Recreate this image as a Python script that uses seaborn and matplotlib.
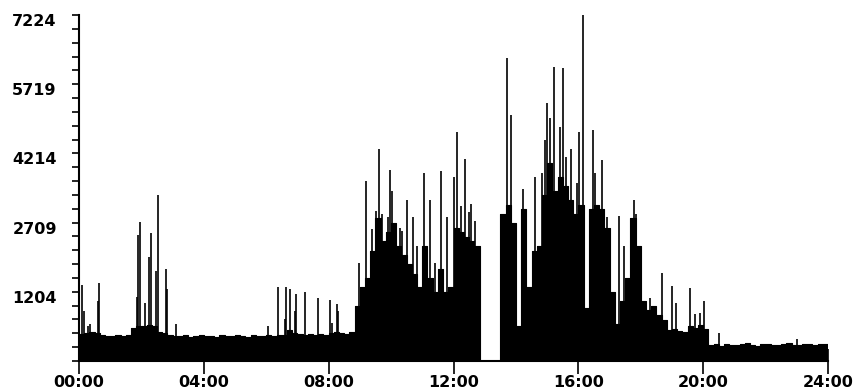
import numpy as np
import pandas as pd
import matplotlib
matplotlib.use("Agg")
import matplotlib.pyplot as plt
import seaborn as sns
from matplotlib.transforms import ScaledTranslation

BOTTOM = -301
TOP = 7224

# dense body of the trace, one value per 10 minutes from 00:00 (None = no data)
bulk = [
    280, 300, 330, 300, 260, 250, 240, 260, 250, 270,
    420, 470, 460, 480, 450, 330, 300, 260,
    250, 240, 260, 230, 250, 270, 240, 250, 230, 260, 250,
    240, 270, 250, 230, 260, 250, 240, 260, 250, 270, 260,
    380, 300, 280, 270, 280, 260, 290, 270, 300, 320, 300, 290, 330,
    900, 1300, 1500, 2100, 2800, 2300, 2500, 2700, 2200, 2000, 1800, 1600,
    1300, 2200, 1500, 1200, 1700, 1200, 1300, 2600, 2500, 2400, 2300, 2200,
    None, None, None, None,
    2900, 3100, 2700, 450, 3000, 1300, 2100, 2200, 3300, 4000,
    3400, 3700, 3500, 3200, 2900, 3100, 850, 3000, 3100, 3000,
    2600, 1200, 500, 1000, 1500, 2800, 2200, 1000, 800, 900,
    700, 600, 380, 400, 350, 330, 450, 420, 480, 400,
    40, 60, 30, 70, 50, 40, 60, 80, 50, 30, 60, 70,
    40, 50, 60, 80, 50, 40, 70, 60, 50, 70, 60,
]

# single tall samples sticking out of the body
spike_hours = [
    0.11, 0.15, 0.29, 0.35, 0.60, 0.64, 1.85, 1.88, 1.96, 2.12, 2.24, 2.31,
    2.47, 2.52, 2.78, 2.82, 3.10, 6.05, 6.37, 6.60, 6.63, 6.76, 6.92, 6.95,
    7.24, 7.65, 8.04, 8.10, 8.26, 8.30, 8.97, 9.19, 9.38, 9.53, 9.62, 9.71,
    9.90, 9.97, 10.03, 10.29, 10.35, 10.50, 10.71, 10.84, 11.04, 11.25, 11.42,
    11.60, 11.79, 12.02, 12.11, 12.24, 12.37, 12.50, 12.56, 12.69,
    13.71, 13.85, 14.24, 14.62, 14.83, 14.94, 15.01, 15.10, 15.22, 15.42,
    15.50, 15.62, 15.75, 15.95, 16.03, 16.16, 16.48, 16.54, 16.75, 16.91,
    17.29, 17.47, 17.72, 17.79, 17.85, 18.30, 18.67, 18.99, 19.13, 19.58,
    19.74, 19.90, 20.03, 20.52, 23.00,
]
spike_values = [
    1360, 790, 450, 500, 1010, 1400, 1100, 2430, 2720, 950, 1970, 2480,
    1660, 3300, 1710, 1270, 510, 470, 1300, 620, 1300, 1270, 790, 1160,
    1210, 1070, 1030, 530, 940, 790, 1820, 3620, 2580, 2970, 4300, 2900,
    2820, 3860, 3400, 2600, 2530, 3190, 2820, 2210, 3780, 3190, 1820,
    3840, 2840, 3700, 4690, 3060, 4100, 2950, 3120, 2750,
    6280, 5040, 3450, 3710, 3780, 4500, 5300, 4980, 6090, 4780,
    6070, 4130, 4300, 3560, 4670, 7224, 4720, 3780, 4080, 2820,
    2860, 2200, 2600, 3190, 2900, 1070, 1620, 1335, 965, 1290,
    725, 745, 1010, 310, 180,
]

y_ticks = [1204, 2709, 4214, 5719, 7224]
x_ticks = [0, 4, 8, 12, 16, 20, 24]
x_labels = ["00:00", "04:00", "08:00", "12:00", "16:00", "20:00", "24:00"]


def plot():
    sns.set_theme(style="ticks")
    plt.rcParams["font.family"] = ["DejaVu Sans"]
    fig = plt.figure(figsize=(8.56, 3.9), dpi=100)
    ax = fig.add_axes([79 / 856, 29 / 390, 749 / 856, 346 / 390])

    hours = np.arange(len(bulk)) / 6
    df = pd.DataFrame({"hour": np.append(hours, 24.0),
                       "count": pd.array(bulk + [bulk[-1]], dtype="Float64")})
    df["level"] = df["count"].fillna(BOTTOM).astype(float)

    ax.fill_between(df["hour"], BOTTOM, df["level"], step="post",
                    color="black", lw=0)
    sns.lineplot(data=df, x="hour", y="level", drawstyle="steps-post",
                 color="black", lw=0.8, ax=ax)
    ax.vlines(spike_hours, BOTTOM, spike_values, color="black", lw=1.2)

    ax.set_xlim(0, 24)
    ax.set_ylim(BOTTOM, TOP)
    ax.set_xlabel("")
    ax.set_ylabel("")
    for side in ["top", "right"]:
        ax.spines[side].set_visible(False)
    for side in ["left", "bottom"]:
        ax.spines[side].set_color("black")
        ax.spines[side].set_linewidth(1.5)
        ax.spines[side].set_zorder(5)

    ax.set_xticks(x_ticks)
    ax.set_xticklabels(x_labels, fontsize=11.5, fontweight="bold")
    ax.set_yticks(y_ticks)
    ax.set_yticklabels([str(v) for v in y_ticks], fontsize=11.5, fontweight="bold")
    ax.set_yticks(np.arange(BOTTOM, TOP + 1, 301), minor=True)
    ax.tick_params(axis="x", direction="inout", length=18, width=1.2,
                   color="black", labelcolor="black", pad=1)
    ax.tick_params(axis="y", which="both", direction="out", length=5,
                   width=1.2, color="black", labelcolor="black", pad=11)
    shift = ScaledTranslation(0, -5 / 100, fig.dpi_scale_trans)
    for lab in ax.get_yticklabels():
        lab.set_transform(lab.get_transform() + shift)

    plt.savefig("out.png", dpi=100, facecolor="white")


if __name__ == "__main__":
    plot()
